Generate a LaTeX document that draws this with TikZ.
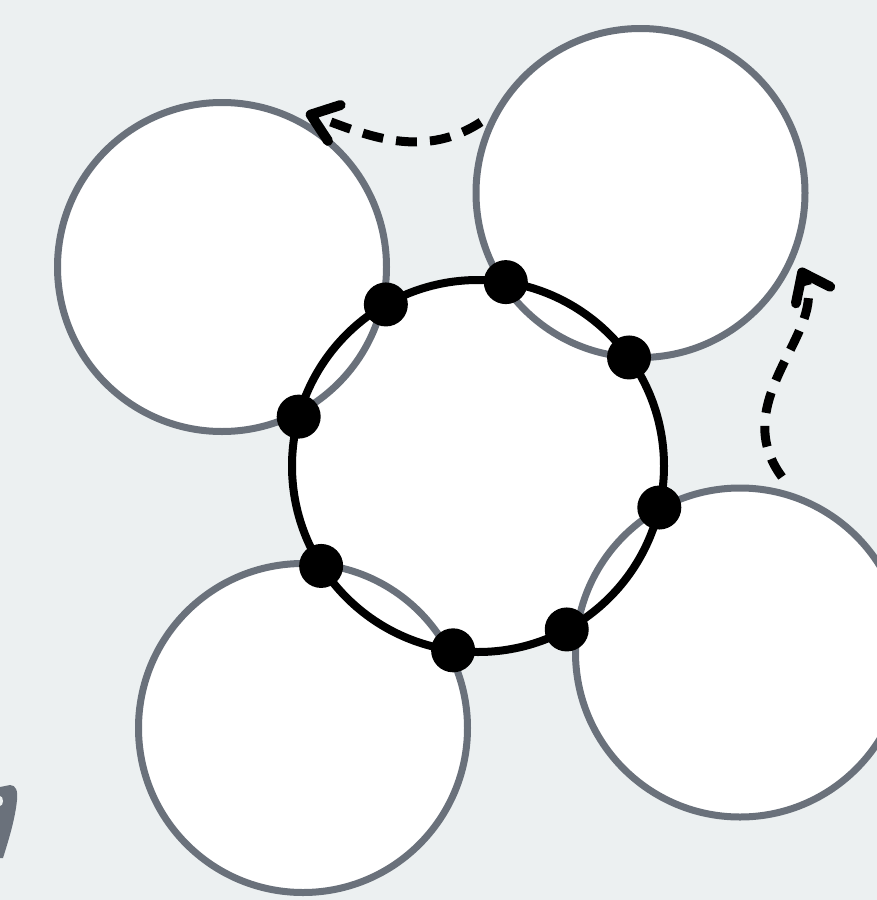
\documentclass[tikz,border=0pt]{standalone}
\usetikzlibrary{arrows.meta,calc}
\definecolor{bgc}{RGB}{236,240,241}
\definecolor{ring}{RGB}{106,113,123}
\tikzset{
  gcirc/.style={circle, draw=ring, fill=white, line width=7pt, minimum size=329pt, inner sep=0pt, outer sep=0pt},
  vdot/.style={circle, fill=black, minimum size=44pt, inner sep=0pt, outer sep=0pt},
  flow/.style={line width=9pt, dash pattern=on 21pt off 13pt, -{Straight Barb[length=25pt,width=38pt,line width=10pt,round]}}
}
\begin{document}
\begin{tikzpicture}[x=1pt,y=-1pt]
\fill[bgc] (0,0) rectangle (877,900);
\useasboundingbox (0,0) rectangle (877,900);
% central disc fill
\coordinate (c) at (478,466);
\fill[white] (c) circle[radius=186pt];
% grey circles
\node[gcirc] (tl) at (222,267) {};
\node[gcirc] (tr) at (640.5,193) {};
\node[gcirc] (bl) at (303,728) {};
\node[gcirc] (br) at (740,652.5) {};
% central ring
\draw[line width=8pt] (c) circle[radius=186pt];
% dots
\foreach \a [count=\i] in {-119.7,-81.4,-35.7,12.9,61.5,97.7,147.5,195.4}{
  \node[vdot] (d\i) at ($(c)+(\a:186)$) {};
}
% arrows
\coordinate (a1s) at (481,122);
\coordinate (a1e) at (306,113);
\draw[flow] (a1s) .. controls (420,162) and (360,132) .. (a1e);
\coordinate (a2s) at (782,477);
\coordinate (a2e) at (800,268);
\draw[flow] (a2s) .. controls (725,400) and (830,330) .. (a2e);
% cropped grey mark
\fill[ring] (0,787) -- (10,785) .. controls (16,785) and (18,791) .. (17,800)
  .. controls (15,820) and (8,842) .. (3,858) -- (0,858) -- cycle;
\fill[bgc] (0,801) ellipse[x radius=3pt, y radius=5pt];
\end{tikzpicture}
\end{document}
